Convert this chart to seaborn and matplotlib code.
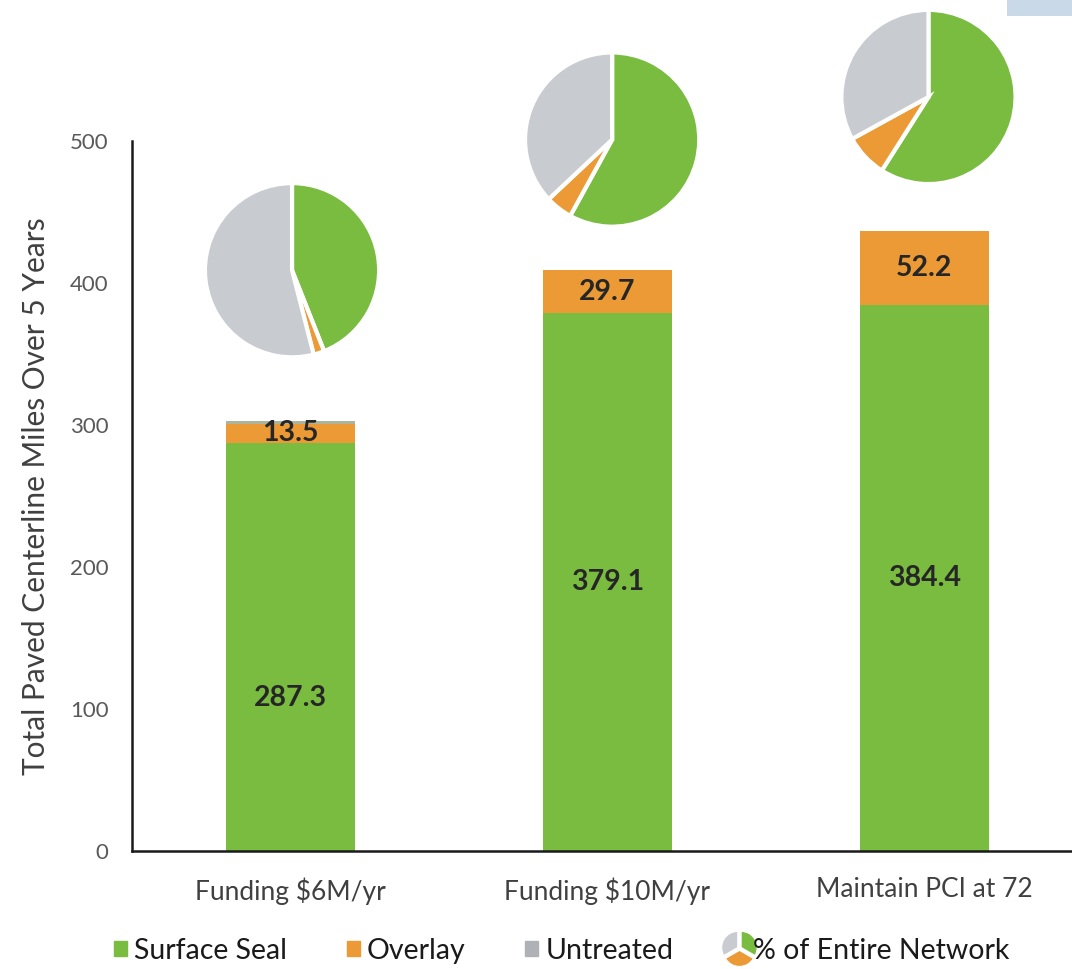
"""
Paved centerline miles treated over 5 years, by funding scenario.
Stacked bars (surface seal / overlay) with a pie of network share above each bar.
"""

import numpy as np
import pandas as pd
import seaborn as sns
import matplotlib.pyplot as plt
from matplotlib.patches import Rectangle, Wedge, Patch
from matplotlib.legend_handler import HandlerBase

# --------------------
# Data
# --------------------
scenarios = ["Funding $6M/yr", "Funding $10M/yr", "Maintain PCI at 72"]
surface_seal = [287.3, 379.1, 384.4]
overlay = [13.5, 29.7, 52.2]
untreated = [2.0, 0.0, 0.0]

# % of entire network, from the pies
pie_seal = [44, 58, 59]
pie_overlay = [2, 5, 8]
pie_untreated = [54, 37, 33]

# layout only: pie centres (x offset from bar, y in miles) and where the 287.3 label sits
pie_dx = [0.005, 0.015, 0.013]
pie_y = [409, 501, 531]
seal_label_y = [108, None, None]

GREEN = "#79bc40"
ORANGE = "#eb9a36"
GREY = "#c8cbcf"
TEXT = "#404040"

sns.set_theme(style="white")
plt.rcParams["font.family"] = ["Lato", "DejaVu Sans"]

df = pd.DataFrame({"scenario": scenarios, "seal": surface_seal,
                   "overlay": overlay, "untreated": untreated})
df["seal_overlay"] = df["seal"] + df["overlay"]
df["total"] = df["seal_overlay"] + df["untreated"]

fig = plt.figure(figsize=(10.72, 9.69), dpi=100)
ax = fig.add_axes([0.1231, 0.1218, 0.887, 0.7327])

# --------------------
# Stacked bars (draw totals first, then cover)
# --------------------
for col, colr in [("total", "#a9b59c"), ("seal_overlay", ORANGE), ("seal", GREEN)]:
    sns.barplot(data=df, x="scenario", y=col, color=colr, width=0.405,
                saturation=1, linewidth=0, ax=ax)

for i, row in df.iterrows():
    y_seal = seal_label_y[i] if seal_label_y[i] is not None else row["seal"] / 2
    ax.text(i, y_seal, f"{row['seal']:.1f}", ha="center", va="center",
            fontsize=20.5, fontweight="bold", color="#262626")
    ax.text(i, row["seal"] + row["overlay"] / 2, f"{row['overlay']:.1f}",
            ha="center", va="center", fontsize=20.5, fontweight="bold", color="#262626")

ax.set_ylim(0, 500)
ax.set_xlim(-0.5, 2.5)
ax.set_yticks([0, 100, 200, 300, 400, 500])
ax.set_xlabel("")
ax.set_ylabel("Total Paved Centerline Miles Over 5 Years", fontsize=21.5,
              color=TEXT, labelpad=14)
ax.tick_params(axis="y", length=0, pad=17, labelsize=16, labelcolor="#595959")
ax.tick_params(axis="x", length=0, pad=19, labelsize=19, labelcolor=TEXT)
sns.despine(ax=ax)
for s in ["left", "bottom"]:
    ax.spines[s].set_color("#1a1a1a")
    ax.spines[s].set_linewidth(1.8)

# --------------------
# Pies above bars
# --------------------
pw, ph = 0.555, 124
for i in range(len(scenarios)):
    pax = ax.inset_axes([i + pie_dx[i] - pw / 2, pie_y[i] - ph / 2, pw, ph],
                        transform=ax.transData)
    pax.pie([pie_seal[i], pie_overlay[i], pie_untreated[i]],
            colors=[GREEN, ORANGE, GREY], startangle=90, counterclock=False,
            wedgeprops=dict(edgecolor="white", linewidth=3))
    pax.set_xlim(-1.01, 1.01)
    pax.set_ylim(-1.01, 1.01)
    pax.set_aspect("equal")
    pax.axis("off")


# --------------------
# Legend
# --------------------
class PieHandler(HandlerBase):
    def create_artists(self, legend, orig_handle, xdescent, ydescent,
                       width, height, fontsize, trans):
        cx = width / 2 - xdescent
        cy = height / 2 - ydescent
        r = height * 1.05
        parts = [(-30, 90, GREEN, 30), (-150, -30, ORANGE, -90), (90, 210, GREY, 150)]
        out = []
        for t1, t2, c, mid in parts:
            dx = 0.12 * r * np.cos(np.radians(mid))
            dy = 0.12 * r * np.sin(np.radians(mid))
            out.append(Wedge((cx + dx, cy + dy), r, t1, t2, facecolor=c,
                             edgecolor="white", linewidth=0.8, transform=trans))
        return out


pie_handle = Patch(label="% of Entire Network")
handles = [Patch(color=GREEN, label="Surface Seal"),
           Patch(color=ORANGE, label="Overlay"),
           Patch(color="#aeb1b5", label="Untreated"),
           pie_handle]
fig.legend(handles=handles, handler_map={pie_handle: PieHandler()},
           loc="center", bbox_to_anchor=(0.524, 0.019), ncol=4, frameon=False,
           fontsize=20.5, handlelength=0.45, handleheight=0.45,
           handletextpad=0.25, columnspacing=2.1, labelcolor="#1a1a1a")

# faint blue scrap in top-right corner of the original
fig.patches.append(Rectangle((0.939, 0.984), 0.07, 0.02, transform=fig.transFigure,
                             facecolor="#c9d9e8", edgecolor="none"))

fig.savefig("out.png", dpi=100)
